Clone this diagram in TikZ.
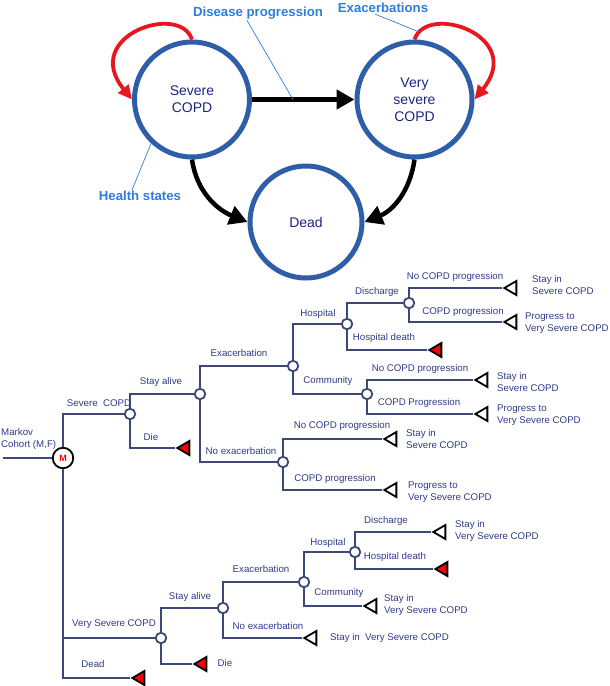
\documentclass[tikz,border=0pt]{standalone}
\usepackage{fontspec}
\setmainfont{Liberation Sans}
\usepackage{tikz}
\usetikzlibrary{arrows.meta, shapes.geometric, positioning, calc}
\definecolor{ringblue}{RGB}{46,94,168}
\definecolor{leadblue}{RGB}{45,125,225}
\definecolor{statetext}{RGB}{28,36,128}
\definecolor{treeline}{RGB}{60,72,120}
\definecolor{treetext}{RGB}{48,58,135}
\definecolor{loopred}{RGB}{232,22,30}
\tikzset{
  state/.style={circle, draw=ringblue, line width=5pt, minimum size=115pt,
                inner sep=0pt, align=center, text=statetext,
                font=\fontsize{14}{17}\selectfont},
  tag/.style={text=leadblue, font=\fontsize{13.2}{15}\selectfont\bfseries,
              inner sep=1pt},
  lead/.style={leadblue, line width=0.7pt},
  move/.style={-{Triangle[length=18pt, width=19pt]}, line width=4.5pt},
  loopy/.style={-{Triangle[length=14pt, width=13pt]}, loopred, line width=3.8pt},
  br/.style={treeline, line width=1.8pt},
  chance/.style={circle, draw=treeline, fill=white, line width=1.8pt,
                 minimum size=10.5pt, inner sep=0pt},
  markov/.style={circle, draw=black, fill=white, line width=1.8pt,
                 minimum size=20.5pt, inner sep=0pt, text=red,
                 font=\fontsize{9}{9}\selectfont\bfseries},
  term/.style={isosceles triangle, shape border rotate=180,
               isosceles triangle stretches, draw=black, fill=white,
               line width=1.8pt, minimum height=12pt, minimum width=14pt,
               inner sep=0pt},
  dies/.style={term, fill=red},
  lbl/.style={text=treetext, font=\fontsize{9.7}{11.5}\selectfont, inner sep=0pt},
  result/.style={lbl, align=left, anchor=west}
}
\begin{document}
\begin{tikzpicture}[x=1pt, y=1pt]
  \useasboundingbox (0,0) rectangle (610,-686);

  % health states
  \node[state] (sev) at (192,-99.5) {Severe\\COPD};
  \node[state] (vsev) at (414.5,-99.5) {Very\\severe\\COPD};
  \node[state, minimum size=112pt] (dead) at (306,-222) {Dead};

  \draw[move] (sev) -- coordinate[pos=0.4] (dpin) (vsev);
  \draw[move] (sev.south) to[out=-82, in=158] (dead.west);
  \draw[move] (vsev.south) to[out=-98, in=22] (dead.east);
  \draw[loopy] (sev.north) to[out=108, in=129, out distance=39pt, in distance=82pt] (sev.west);
  \draw[loopy] (vsev.north) to[out=72, in=51, out distance=39pt, in distance=82pt]
    coordinate[pos=0.08] (exin) (vsev.east);

  \node[tag] (dplbl) at (258,-13) {Disease progression};
  \node[tag] (exlbl) at (383,-8) {Exacerbations};
  \node[tag] (hslbl) at (140,-196) {Health states};
  \draw[lead] (dplbl.south -| 247,0) -- (dpin);
  \draw[lead] (exlbl.south -| 375,0) -- (exin);
  \draw[lead] (hslbl.north -| 132,0) -- (sev.227);

  % decision tree
  \node[markov] (mk) at (63,-458) {M};
  \coordinate (cohort) at (3,-458);
  \node[lbl, align=left, anchor=west] (mklbl) at (1,-439) {Markov\\Cohort (M,F)};

  \foreach \n/\x/\y in {c1/130/414, c2/200/394, c3/293/366, c4/283/462,
                        h1/347/324, m1/367/394, d1/409/303,
                        v1/161/638, v2/223/608, v3/304/582, v4/355/552}
    \node[chance] (\n) at (\x,-\y) {};

  \foreach \n/\x/\y/\s in {t1/502/288/term, t2/502/322/term, t3/473/380/term,
                           t4/473/414/term, t5/382/439/term, t6/382/490/term,
                           t7/431/532/term, t8/362/606/term, t9/302/638/term,
                           x1/175/448/dies, x2/427/350/dies, x3/433/569/dies,
                           x4/192/664/dies, x5/130/678/dies}
    \node[\s, anchor=apex] (\n) at (\x,-\y) {};

  \draw[br] (cohort) -- (mk);
  \foreach \a/\b in {mk/c1, c1/c2, c1/x1.apex, c2/c3, c2/c4, c3/h1, c3/m1,
                     h1/d1, h1/x2.apex, d1/t1.apex, d1/t2.apex, m1/t3.apex,
                     m1/t4.apex, c4/t5.apex, c4/t6.apex,
                     mk/v1, mk/x5.apex, v1/v2, v1/x4.apex, v2/v3, v2/t9.apex,
                     v3/v4, v3/t8.apex, v4/t7.apex, v4/x3.apex}
    \draw[br] (\a) |- (\b);

  % branch labels
  \foreach \x/\y/\t [count=\i] in {99/403/Severe\ \ COPD, 161/382/Stay alive,
      151/437/Die, 239/353/Exacerbation, 241/451/No exacerbation,
      318/314/Hospital, 328/381/Community, 377/292/Discharge,
      384/338/Hospital death, 455/277/No COPD progression,
      463/312/COPD progression, 420/369/No COPD progression,
      419/403/COPD Progression, 342/426/No COPD progression,
      335/479/COPD progression, 114/624/Very Severe COPD, 93/664/Dead,
      190/597/Stay alive, 225/663/Die, 261/569/Exacerbation,
      268/626/No exacerbation, 328/543/Hospital, 339/593/Community,
      386/521/Discharge, 395/557/Hospital death}
    \node[lbl] (b\i) at (\x,-\y) {\t};

  % outcomes
  \foreach \x/\y/\t [count=\i] in {532/285/{Stay in\\Severe COPD},
      525/323/{Progress to\\Very Severe COPD}, 497/382/{Stay in\\Severe COPD},
      497/415/{Progress to\\Very Severe COPD}, 406/439/{Stay in\\Severe COPD},
      408/492/{Progress to\\Very Severe COPD},
      455/531/{Stay in\\Very Severe COPD}, 384/605/{Stay in\\Very Severe COPD},
      330/638/{Stay in\ \ Very Severe COPD}}
    \node[result] (r\i) at (\x,-\y) {\t};
\end{tikzpicture}
\end{document}
